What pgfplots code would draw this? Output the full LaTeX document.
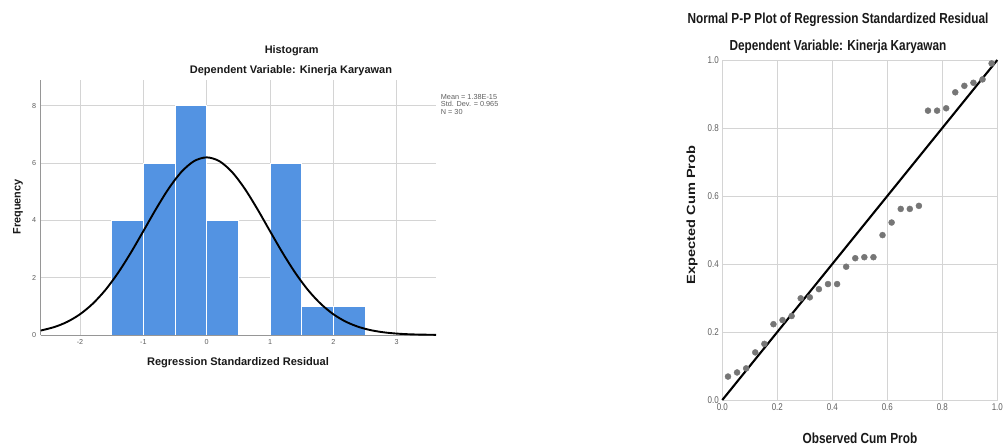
\documentclass[border=0pt]{standalone}
\usepackage{fontspec}
\setmainfont{Liberation Sans}
\usepackage{graphicx}
\usepackage{pgfplots}
\pgfplotsset{compat=1.18}
\definecolor{barblue}{RGB}{83,147,226}
\definecolor{dotgray}{RGB}{118,118,118}
\definecolor{gridgray}{RGB}{212,212,212}
\definecolor{axgray}{RGB}{150,150,150}
\definecolor{ticktext}{RGB}{95,95,95}
\definecolor{titletext}{RGB}{25,25,25}
\begin{document}
\begin{tikzpicture}
\path[use as bounding box, fill=white] (0,0) rectangle (1003pt,445pt);
% ---------------- Histogram ----------------
\begin{axis}[
  at={(40.7pt,110pt)}, anchor=south west, scale only axis,
  width=395.3pt, height=255pt,
  xmin=-2.62, xmax=3.62, ymin=0, ymax=8.9,
  axis x line*=bottom, axis y line*=left,
  axis line style={axgray, line width=0.7pt, -},
  xtick={-2,-1,0,1,2,3}, ytick={0,2,4,6,8},
  major tick length=0pt,
  grid=major, major grid style={gridgray, line width=0.6pt},
  /pgf/number format/assume math mode=true,
  tick label style={font=\fontsize{7.2}{8}\selectfont, text=ticktext},
  xticklabel style={yshift=-1pt},
  yticklabel style={xshift=-1pt},
]
\addplot[ybar interval, fill=barblue, draw=white, line width=0.9pt]
  coordinates {(-1.5,4)(-1,6)(-0.5,8)(0,4)(0.5,0)(1,6)(1.5,1)(2,1)(2.5,1)};
\addplot[axgray, line width=0.7pt] coordinates {(-2.62,0)(3.62,0)};
\addplot[black, line width=1.9pt, smooth] coordinates {
(-2.62,0.155)(-2.4,0.281)(-2.2,0.461)(-2.0,0.724)(-1.8,1.089)(-1.6,1.568)
(-1.4,2.165)(-1.2,2.862)(-1.0,3.624)(-0.8,4.397)(-0.6,5.110)(-0.4,5.690)
(-0.2,6.068)(0,6.2)(0.2,6.068)(0.4,5.690)(0.6,5.110)(0.8,4.397)(1.0,3.624)
(1.2,2.862)(1.4,2.165)(1.6,1.568)(1.8,1.089)(2.0,0.724)(2.2,0.461)(2.4,0.281)
(2.6,0.164)(2.8,0.092)(3.0,0.049)(3.2,0.025)(3.4,0.013)(3.62,0.006)};
\end{axis}
\node[font=\bfseries\fontsize{10.9}{12}\selectfont, text=titletext] at (291.7pt,394.3pt) {Histogram};
\node[font=\bfseries\fontsize{11}{12}\selectfont, text=titletext] at (291pt,374pt) {Dependent Variable: Kinerja Karyawan};
\node[font=\bfseries\fontsize{11.06}{12}\selectfont, text=titletext] at (238pt,82pt) {Regression Standardized Residual};
\node[font=\bfseries\fontsize{10.9}{12}\selectfont, text=titletext, rotate=90] at (18pt,238pt) {Frequency};
\node[anchor=north west, inner sep=0pt, align=left, font=\fontsize{7.3}{7.7}\selectfont, text=ticktext] at (440.7pt,351pt) {Mean = 1.38E-15\\Std. Dev. = 0.965\\N = 30};
% ---------------- P-P plot ----------------
\begin{axis}[
  at={(722.3pt,45pt)}, anchor=south west, scale only axis,
  width=275pt, height=340pt,
  xmin=0, xmax=1, ymin=0, ymax=1,
  axis line style={gridgray, line width=0.7pt},
  xtick={0,0.2,0.4,0.6,0.8,1}, ytick={0,0.2,0.4,0.6,0.8,1},
  xticklabels={\scalebox{1}[1.23]{0.0},\scalebox{1}[1.23]{0.2},\scalebox{1}[1.23]{0.4},\scalebox{1}[1.23]{0.6},\scalebox{1}[1.23]{0.8},\scalebox{1}[1.23]{1.0}},
  yticklabels={\scalebox{1}[1.23]{0.0},\scalebox{1}[1.23]{0.2},\scalebox{1}[1.23]{0.4},\scalebox{1}[1.23]{0.6},\scalebox{1}[1.23]{0.8},\scalebox{1}[1.23]{1.0}},
  major tick length=0pt,
  grid=major, major grid style={gridgray, line width=0.6pt},
  tick label style={font=\fontsize{8}{9}\selectfont, text=ticktext},
  clip=false,
]
\addplot[only marks, mark=*, mark size=3pt, color=dotgray] coordinates {
(0.0207,0.069)(0.0537,0.081)(0.0868,0.093)(0.1198,0.140)(0.1529,0.165)
(0.1860,0.223)(0.2190,0.235)(0.2521,0.247)(0.2851,0.299)(0.3182,0.302)
(0.3512,0.326)(0.3843,0.341)(0.4174,0.341)(0.4504,0.392)(0.4835,0.417)
(0.5165,0.420)(0.5496,0.420)(0.5826,0.485)(0.6157,0.522)(0.6488,0.562)
(0.6818,0.562)(0.7149,0.571)(0.7479,0.851)(0.7810,0.851)(0.8140,0.858)
(0.8471,0.905)(0.8802,0.924)(0.9132,0.933)(0.9463,0.943)(0.9793,0.990)};
\addplot[black, line width=2.1pt] coordinates {(0,0)(1,1)};
\end{axis}
\node[font=\bfseries\fontsize{11.8}{13}\selectfont, text=titletext] at (838pt,425pt) {\scalebox{1}[1.23]{Normal P-P Plot of Regression Standardized Residual}};
\node[font=\bfseries\fontsize{11.8}{13}\selectfont, text=titletext] at (838pt,398pt) {\scalebox{1}[1.23]{Dependent Variable: Kinerja Karyawan}};
\node[font=\bfseries\fontsize{11.86}{13}\selectfont, text=titletext] at (860pt,7pt) {\scalebox{1}[1.23]{Observed Cum Prob}};
\node[font=\bfseries\fontsize{11.86}{13}\selectfont, text=titletext, rotate=90] at (692pt,230pt) {\scalebox{1.23}[1]{Expected Cum Prob}};
\end{tikzpicture}
\end{document}
